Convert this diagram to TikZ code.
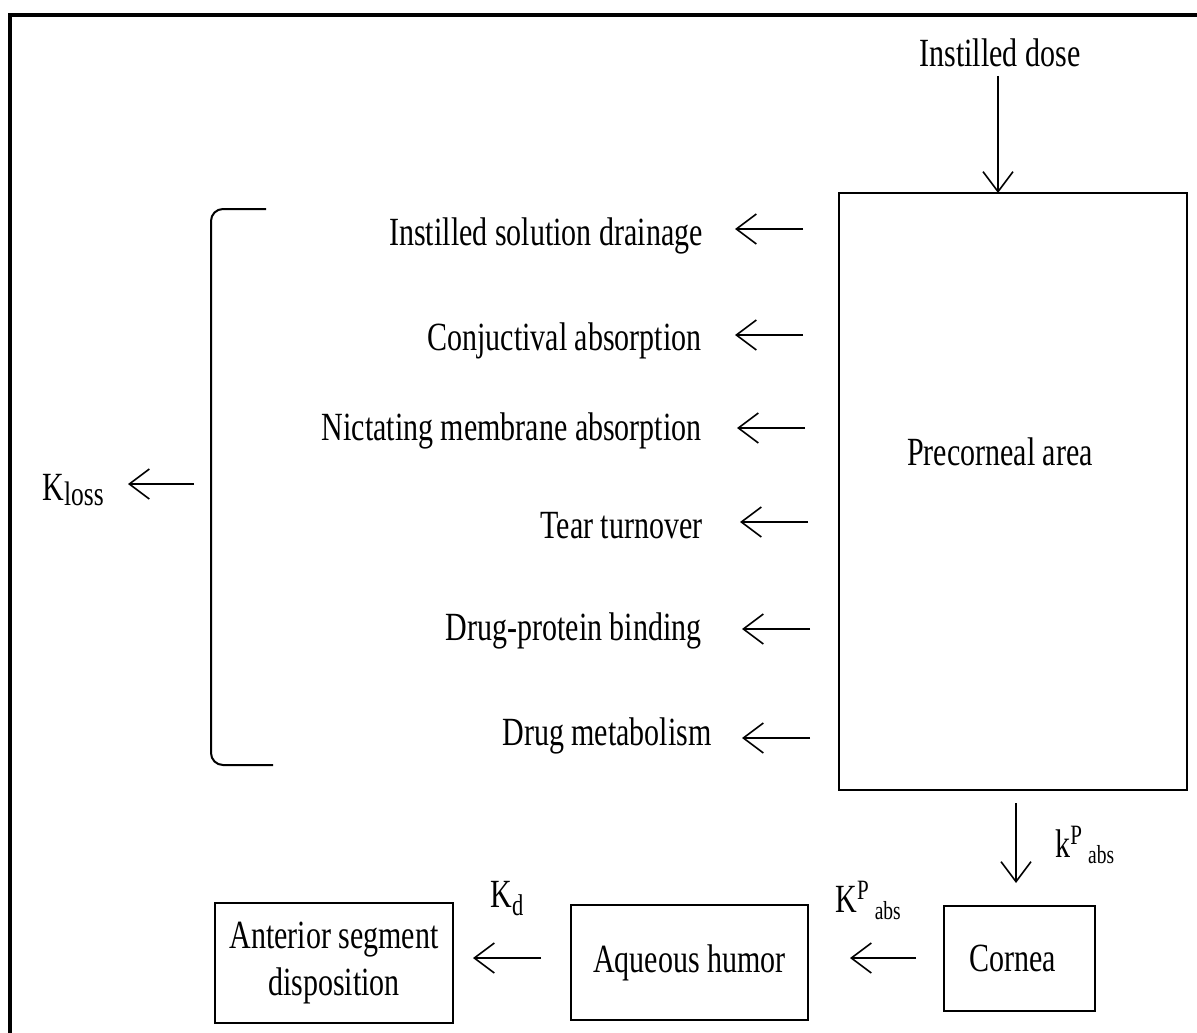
\documentclass[tikz,border=0pt]{standalone}
\usepackage{fontspec}
\setmainfont{Liberation Serif}[FakeStretch=0.75]
\usetikzlibrary{arrows.meta}
\newcommand\shiftsize[3]{\raisebox{#1}{\fontsize{#2}{#2}\selectfont #3}}
\begin{document}
\begin{tikzpicture}[x=0.5pt,y=-0.5pt,
  lbl/.style={inner sep=0pt, font=\fontsize{20}{24}\selectfont},
  box/.style={draw, line width=1pt, inner sep=0pt, font=\fontsize{20}{24}\selectfont, align=center},
  arr/.style={line width=1pt, -{Straight Barb[length=10pt,width=15pt,line width=0.8pt]}},
  frame/.style={line width=2pt},
  bracket/.style={line width=1pt, rounded corners=6pt}]
\useasboundingbox (0,0) rectangle (1197,1032);
% outer frame (cut off at right and bottom)
\draw[frame] (10,1040) -- (10,15) -- (1205,15);

% boxes
\node[box, minimum width=174pt, minimum height=298.5pt] (pre) at (1013,491.5) {};
\node[lbl, anchor=base] (pretext) at (1000,465) {Precorneal area};
\node[box, minimum width=75.5pt, minimum height=52.5pt] (cornea) at (1019.5,958.5) {Cornea\hspace*{7pt}};
\node[box, minimum width=118.5pt, minimum height=57.5pt] (aqueous) at (689.5,962.5) {Aqueous humor};
\node[box, minimum width=119pt, minimum height=60pt] (anterior) at (334,963) {Anterior segment\\disposition};

% texts
\node[lbl, anchor=base] (dose) at (1000,67) {Instilled dose};
\node[lbl, anchor=base east] (drain) at (703,245) {Instilled solution drainage};
\node[lbl, anchor=base east] (conj) at (702,350) {Conjuctival absorption};
\node[lbl, anchor=base east] (nict) at (702,440) {Nictating membrane absorption};
\node[lbl, anchor=base east] (tear) at (703,538) {Tear turnover};
\node[lbl, anchor=base east] (dpb) at (702,640) {Drug-protein binding};
\node[lbl, anchor=base east] (metab) at (712,745) {Drug metabolism};
\node[lbl, anchor=base west] (kloss) at (42,500) {K\shiftsize{-2.5pt}{17pt}{loss}};
\node[lbl, anchor=base west] (kd) at (490,907) {K\shiftsize{-4pt}{15pt}{d}};
\node[lbl, anchor=base west] (kpabs2) at (835,912) {K\shiftsize{6.5pt}{14pt}{P}\hspace{3pt}\shiftsize{-3.5pt}{13pt}{abs}};
\node[lbl, anchor=base west] (kpabs1) at (1055,857) {k\shiftsize{6.5pt}{14pt}{P}\hspace{3pt}\shiftsize{-3pt}{13pt}{abs}};

% arrow end points
\coordinate (d0) at (998,76);
\coordinate (d1) at (998,193);
\coordinate (a1s) at (803,229); \coordinate (a1e) at (735,229);
\coordinate (a2s) at (803,335); \coordinate (a2e) at (735,335);
\coordinate (a3s) at (805,428); \coordinate (a3e) at (737,428);
\coordinate (a4s) at (808,522); \coordinate (a4e) at (740,522);
\coordinate (a5s) at (810,629); \coordinate (a5e) at (742,629);
\coordinate (a6s) at (810,738); \coordinate (a6e) at (742,738);
\coordinate (ks) at (194,484); \coordinate (ke) at (128,484);
\coordinate (ps) at (1016,803); \coordinate (pe) at (1016,883);
\coordinate (cs) at (916,958); \coordinate (ce) at (850,958);
\coordinate (qs) at (541,958); \coordinate (qe) at (473,958);

% arrows
\draw[arr] (d0) -- (d1);
\draw[arr] (a1s) -- (a1e);
\draw[arr] (a2s) -- (a2e);
\draw[arr] (a3s) -- (a3e);
\draw[arr] (a4s) -- (a4e);
\draw[arr] (a5s) -- (a5e);
\draw[arr] (a6s) -- (a6e);
\draw[arr] (ks) -- (ke);
\draw[arr] (ps) -- (pe);
\draw[arr] (cs) -- (ce);
\draw[arr] (qs) -- (qe);

% bracket
\draw[bracket] (266,209) -- (211,209) -- (211,765) -- (273,765);
\end{tikzpicture}
\end{document}
